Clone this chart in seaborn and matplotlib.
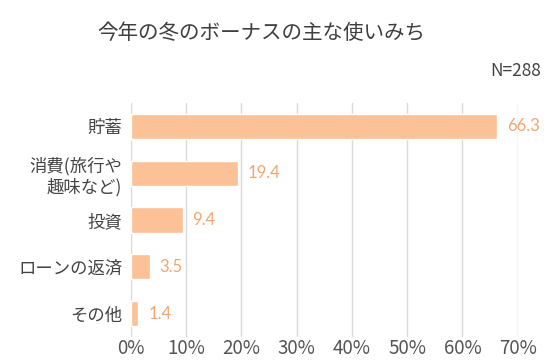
import matplotlib
matplotlib.use("Agg")
import matplotlib.pyplot as plt
import seaborn as sns
import pandas as pd

categories = ["貯蓄", "消費(旅行や\n趣味など)", "投資", "ローンの返済", "その他"]
values = [66.3, 19.4, 9.4, 3.5, 1.4]
value_labels = ["66.3", "19.4", "9.4", "3.5", "1.4"]
xticks = [0, 10, 20, 30, 40, 50, 60, 70]
xtick_labels = ["0%", "10%", "20%", "30%", "40%", "50%", "60%", "70%"]
title = "今年の冬のボーナスの主な使いみち"
note = "N=288"

sns.set_theme(style="white")
plt.rcParams["font.family"] = ["Noto Sans CJK JP", "DejaVu Sans"]

df = pd.DataFrame({"cat": categories, "val": values})

fig = plt.figure(figsize=(5.6, 3.62), dpi=100)
ax = fig.add_axes([130.7 / 560, 1 - 337 / 362, (517.7 - 130.7) / 560, (337 - 103) / 362])

sns.barplot(data=df, x="val", y="cat", orient="h", color="#FDC197", width=0.535,
            saturation=1, ax=ax, zorder=3)

ax.set_xlim(0, 70)
ax.set_ylim(4.5, -0.5)
ax.set_xticks(xticks)
ax.set_xticklabels(xtick_labels, fontsize=13.5, color="#555555")
ax.tick_params(axis="x", length=0, pad=1)
ax.tick_params(axis="y", length=0, pad=6)
for lbl in ax.get_yticklabels():
    lbl.set_fontsize(12.5)
    lbl.set_color("#444444")
    lbl.set_linespacing(1.2)
ax.set_xlabel("")
ax.set_ylabel("")
for s in ax.spines.values():
    s.set_visible(False)
ax.xaxis.grid(True, color="#d9d9d9", linewidth=1, zorder=0)
ax.set_axisbelow(True)

for i, (v, t) in enumerate(zip(values, value_labels)):
    ax.annotate(t, xy=(v, i), xytext=(7, 0), textcoords="offset points",
                va="center", ha="left", fontsize=12, color="#F3A56F",
                family="Lato", clip_on=False)

fig.text(261 / 560, 1 - 33 / 362, title, ha="center", va="center", fontsize=14.8,
         color="#3f3f3f")
fig.text(541 / 560, 1 - 71 / 362, note, ha="right", va="center", fontsize=12.5,
         color="#444444")

fig.savefig("out.png", dpi=100)
